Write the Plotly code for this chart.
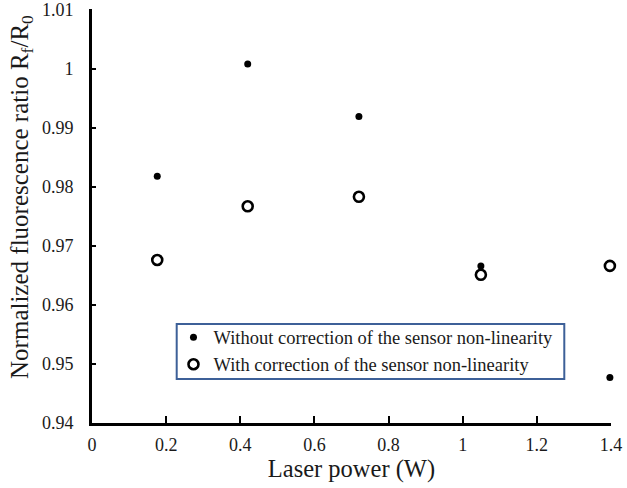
import plotly.graph_objects as go

# Data
power_without = [0.176, 0.42, 0.72, 1.049, 1.397]
ratio_without = [0.9818, 1.0008, 0.9919, 0.9666, 0.9477]

power_with = [0.176, 0.42, 0.72, 1.049, 1.397]
ratio_with = [0.9676, 0.9767, 0.9783, 0.9651, 0.9666]

name_without = "Without correction of the sensor non-linearity"
name_with = "With correction of the sensor non-linearity"

y_tick_vals = [0.94, 0.95, 0.96, 0.97, 0.98, 0.99, 1.0, 1.01]
y_tick_text = ["0.94", "0.95", "0.96", "0.97", "0.98", "0.99", "1", "1.01"]
x_tick_vals = [0, 0.2, 0.4, 0.6, 0.8, 1.0, 1.2, 1.4]
x_tick_text = ["0", "0.2", "0.4", "0.6", "0.8", "1", "1.2", "1.4"]

y_title = "Normalized fluorescence ratio R<sub>f</sub>/R<sub>0</sub>"
x_title = "Laser power (W)"

FONT = "Liberation Serif"
INK = "#1a1a1a"

fig = go.Figure()
fig.add_trace(go.Scatter(
    x=power_without, y=ratio_without, mode="markers", name=name_without,
    cliponaxis=False,
    marker=dict(symbol="circle", size=7, color="black", line=dict(width=0)),
))
fig.add_trace(go.Scatter(
    x=power_with, y=ratio_with, mode="markers", name=name_with,
    cliponaxis=False,
    marker=dict(symbol="circle-open", size=10, color="black", line=dict(width=2.6, color="black")),
))

fig.update_layout(
    width=627, height=488,
    margin=dict(l=92, r=16, t=9, b=65, autoexpand=False),
    paper_bgcolor="white", plot_bgcolor="white",
    font=dict(family=FONT, size=18, color=INK),
    showlegend=True,
    legend=dict(
        x=0.157, y=0.252, xanchor="left", yanchor="top",
        bgcolor="rgba(0,0,0,0)", borderwidth=0,
        font=dict(family=FONT, size=18.5, color=INK),
        itemwidth=30, tracegroupgap=0,
    ),
    shapes=[dict(
        type="rect", xref="paper", yref="paper",
        x0=0.1632, x1=0.910, y0=0.1063, y1=0.2391,
        line=dict(color="#3d6098", width=2), fillcolor="rgba(0,0,0,0)", layer="below",
    )],
    annotations=[dict(
        text=y_title, xref="paper", yref="paper",
        x=-0.1349, y=0.546, xanchor="center", yanchor="middle",
        textangle=-90, showarrow=False,
        font=dict(family=FONT, size=25, color=INK),
    )],
    xaxis=dict(
        range=[0, 1.4], tickvals=x_tick_vals, ticktext=x_tick_text,
        showgrid=False, zeroline=False, automargin=False,
        showline=True, linecolor="black", linewidth=3,
        ticks="inside", ticklen=7, tickwidth=2, tickcolor="black",
        tickfont=dict(family=FONT, size=18, color=INK),
        ticklabelstandoff=3, ticklabeloverflow="allow",
        title=dict(text=x_title, font=dict(family=FONT, size=24.5, color=INK), standoff=6),
    ),
    yaxis=dict(
        range=[0.94, 1.0101], tickvals=y_tick_vals, ticktext=y_tick_text,
        showgrid=False, zeroline=False, automargin=False,
        showline=True, linecolor="black", linewidth=3,
        ticks="inside", ticklen=4, tickwidth=2, tickcolor="black",
        tickfont=dict(family=FONT, size=18, color=INK),
        ticklabelstandoff=12, ticklabeloverflow="allow",
    ),
)

fig.write_html("out.html")
